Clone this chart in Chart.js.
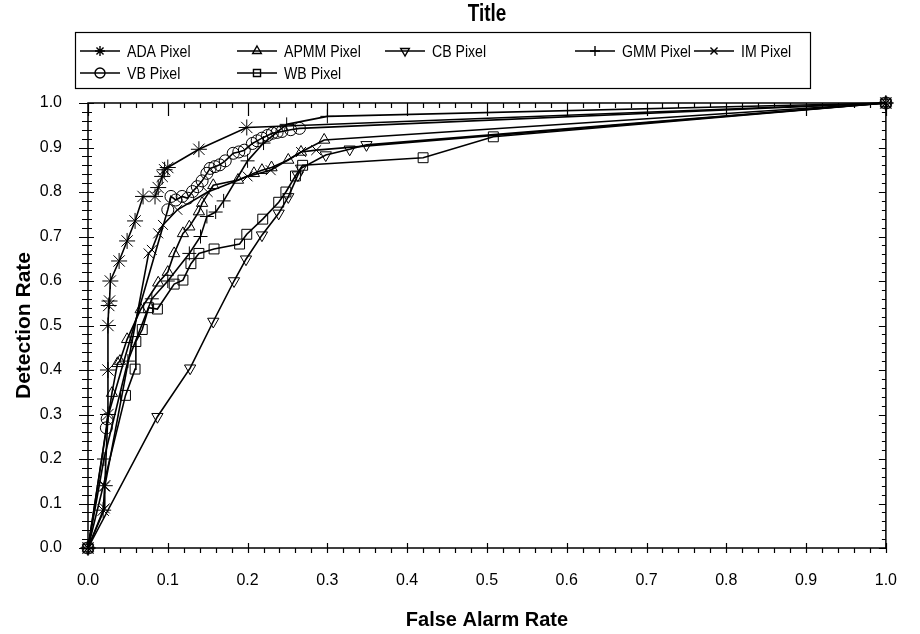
<!DOCTYPE html>
<html>
<head>
<meta charset="utf-8">
<title>ROC - Title</title>
<script src="https://cdn.jsdelivr.net/npm/chart.js@4.4.1/dist/chart.umd.min.js"></script>
<style>
  body { margin: 0; background: #fff; }
  #wrap { width: 920px; height: 634px; }
</style>
</head>
<body>
<div id="wrap"><canvas id="rocChart" width="920" height="634"></canvas></div>
<script>
// values (false alarm rate -> detection rate)
var adaX = [0, 0.019, 0.021, 0.025, 0.025, 0.025, 0.026, 0.027, 0.028, 0.039, 0.049, 0.059, 0.069, 0.084, 0.088, 0.093, 0.096, 0.1, 0.139, 0.199, 1];
var adaY = [0, 0.085, 0.14, 0.3, 0.4, 0.5, 0.545, 0.555, 0.6, 0.645, 0.69, 0.735, 0.79, 0.79, 0.81, 0.835, 0.85, 0.855, 0.896, 0.945, 1];

var apmmX = [0, 0.03, 0.037, 0.04, 0.049, 0.066, 0.088, 0.1, 0.108, 0.119, 0.127, 0.139, 0.143, 0.157, 0.188, 0.208, 0.218, 0.23, 0.251, 0.267, 0.296, 1];
var apmmY = [0, 0.348, 0.415, 0.42, 0.469, 0.536, 0.596, 0.62, 0.662, 0.707, 0.722, 0.756, 0.775, 0.815, 0.827, 0.842, 0.849, 0.855, 0.872, 0.89, 0.917, 1];

var cbX = [0, 0.087, 0.128, 0.157, 0.183, 0.198, 0.218, 0.239, 0.251, 0.263, 0.267, 0.298, 0.328, 0.349, 1];
var cbY = [0, 0.295, 0.404, 0.509, 0.6, 0.649, 0.703, 0.752, 0.789, 0.838, 0.853, 0.883, 0.896, 0.906, 1];

var gmmX = [0, 0.02, 0.05, 0.08, 0.1, 0.127, 0.141, 0.149, 0.16, 0.17, 0.2, 0.22, 0.249, 0.3, 1];
var gmmY = [0, 0.2, 0.42, 0.56, 0.6, 0.662, 0.7, 0.745, 0.755, 0.78, 0.87, 0.91, 0.952, 0.97, 1];

var imX = [0, 0.021, 0.021, 0.076, 0.08, 0.088, 0.094, 0.112, 0.15, 0.2, 0.229, 0.267, 0.286, 1];
var imY = [0, 0.089, 0.138, 0.662, 0.67, 0.707, 0.726, 0.76, 0.8, 0.835, 0.849, 0.89, 0.894, 1];

var vbX = [0, 0.023, 0.024, 0.1, 0.104, 0.11, 0.118, 0.125, 0.131, 0.137, 0.143, 0.149, 0.153, 0.159, 0.165, 0.172, 0.182, 0.189, 0.196, 0.206, 0.212, 0.218, 0.225, 0.231, 0.237, 0.243, 0.254, 0.265, 1];
var vbY = [0, 0.27, 0.29, 0.76, 0.79, 0.782, 0.79, 0.786, 0.801, 0.812, 0.825, 0.842, 0.853, 0.857, 0.861, 0.87, 0.887, 0.89, 0.894, 0.909, 0.915, 0.921, 0.927, 0.932, 0.934, 0.936, 0.94, 0.943, 1];

var wbX = [0, 0.047, 0.059, 0.06, 0.068, 0.076, 0.087, 0.108, 0.119, 0.129, 0.139, 0.158, 0.19, 0.199, 0.219, 0.239, 0.248, 0.26, 0.269, 0.42, 0.508, 1];
var wbY = [0, 0.343, 0.402, 0.464, 0.491, 0.54, 0.537, 0.593, 0.602, 0.639, 0.662, 0.672, 0.683, 0.705, 0.739, 0.777, 0.8, 0.836, 0.86, 0.877, 0.924, 1];

var seriesNames = ['ADA Pixel', 'APMM Pixel', 'CB Pixel', 'GMM Pixel', 'IM Pixel', 'VB Pixel', 'WB Pixel'];

var fontFace = "'Liberation Sans', Arial, sans-serif";

function makePoints(xs, ys) {
    return xs.map(function(x, i) { return { x: x, y: ys[i] }; });
}

function makeSet(name, xs, ys, style, radius, rotation) {
    return {
        label: name,
        data: makePoints(xs, ys),
        showLine: true,
        tension: 0,
        fill: false,
        borderColor: '#000',
        borderWidth: 1.6,
        pointStyle: style,
        pointRotation: rotation || 0,
        pointRadius: radius,
        pointBorderColor: '#000',
        pointBackgroundColor: 'rgba(0,0,0,0)',
        pointBorderWidth: 1,
        clip: 10
    };
}

// squeezed text, the original uses a narrow face
function narrowText(ctx, text, x, y, squeeze) {
    ctx.save();
    ctx.translate(x, y);
    ctx.scale(squeeze, 1);
    ctx.fillText(text, 0, 0);
    ctx.restore();
}

// frame with minor / major tick marks
var frameTicks = {
    id: 'frameTicks',
    afterDraw: function(chart) {
        var ctx = chart.ctx, a = chart.chartArea;
        var xs = chart.scales.x, ys = chart.scales.y;
        ctx.save();
        ctx.strokeStyle = '#000';
        ctx.lineWidth = 1.5;
        ctx.strokeRect(a.left, a.top, a.right - a.left, a.bottom - a.top);
        ctx.lineWidth = 1.2;
        ctx.beginPath();
        for (var i = 0; i <= 50; i++) {
            var major = i % 5 === 0;
            var px = Math.round(xs.getPixelForValue(i / 50)) + 0.5;
            var py = Math.round(ys.getPixelForValue(i / 50)) + 0.5;
            ctx.moveTo(px, a.bottom - (major ? 5 : 0));
            ctx.lineTo(px, a.bottom + 5);
            ctx.moveTo(px, a.top);
            ctx.lineTo(px, a.top + (major ? 13 : 5));
            ctx.moveTo(a.left - (major ? 9 : 6), py);
            ctx.lineTo(a.left + (major ? 6 : 4), py);
            ctx.moveTo(a.right, py);
            ctx.lineTo(a.right - (major ? 7 : 4), py);
        }
        ctx.stroke();
        ctx.restore();
    }
};

// title and boxed legend above the plot
var legendSlots = [[80, 51], [237, 51], [385, 51], [575, 51], [694, 51], [80, 73], [237, 73]];

var boxedLegend = {
    id: 'boxedLegend',
    afterDraw: function(chart) {
        var ctx = chart.ctx, a = chart.chartArea;
        ctx.save();
        ctx.fillStyle = '#000';
        ctx.textAlign = 'center';
        ctx.textBaseline = 'middle';
        ctx.font = 'bold 23px ' + fontFace;
        narrowText(ctx, 'Title', (a.left + a.right) / 2, 15, 0.82);

        ctx.strokeStyle = '#000';
        ctx.lineWidth = 1.2;
        ctx.strokeRect(75.5, 32.5, 735, 56);

        ctx.textAlign = 'left';
        ctx.font = '17px ' + fontFace;
        chart.data.datasets.forEach(function(ds, i) {
            var s = legendSlots[i];
            ctx.beginPath();
            ctx.lineWidth = 1.4;
            ctx.moveTo(s[0], s[1]);
            ctx.lineTo(s[0] + 40, s[1]);
            ctx.stroke();
            ctx.fillStyle = 'rgba(0,0,0,0)';
            Chart.helpers.drawPoint(ctx, {
                pointStyle: ds.pointStyle,
                rotation: ds.pointRotation,
                radius: 5,
                borderWidth: 1
            }, s[0] + 20, s[1]);
            ctx.fillStyle = '#000';
            narrowText(ctx, ds.label, s[0] + 47, s[1] + 1, 0.83);
        });
        ctx.restore();
    }
};

var ctx = document.getElementById('rocChart').getContext('2d');
var rocChart = new Chart(ctx, {
    type: 'scatter',
    data: {
        datasets: [
            makeSet(seriesNames[0], adaX, adaY, 'star', 8),
            makeSet(seriesNames[1], apmmX, apmmY, 'triangle', 6.5),
            makeSet(seriesNames[2], cbX, cbY, 'triangle', 6.5, 180),
            makeSet(seriesNames[3], gmmX, gmmY, 'cross', 7),
            makeSet(seriesNames[4], imX, imY, 'crossRot', 7),
            makeSet(seriesNames[5], vbX, vbY, 'circle', 6),
            makeSet(seriesNames[6], wbX, wbY, 'rect', 7)
        ]
    },
    options: {
        responsive: false,
        devicePixelRatio: 1,
        animation: false,
        layout: { padding: { top: 103, right: 14, left: 0, bottom: 0 } },
        plugins: {
            legend: { display: false },
            title: { display: false },
            tooltip: { enabled: false }
        },
        scales: {
            x: {
                type: 'linear',
                min: 0,
                max: 1,
                grid: { display: false, drawTicks: false },
                border: { display: false },
                ticks: {
                    stepSize: 0.1,
                    padding: 23,
                    color: '#000',
                    font: { family: fontFace, size: 16 },
                    callback: function(v) { return v.toFixed(1); }
                },
                title: {
                    display: true,
                    text: 'False Alarm Rate',
                    color: '#000',
                    font: { family: fontFace, size: 20, weight: 'bold' },
                    padding: { top: 0, bottom: 2 }
                },
                afterFit: function(s) { s.height = 86; }
            },
            y: {
                type: 'linear',
                min: 0,
                max: 1,
                grid: { display: false, drawTicks: false },
                border: { display: false },
                ticks: {
                    stepSize: 0.1,
                    padding: 26,
                    color: '#000',
                    font: { family: fontFace, size: 16 },
                    callback: function(v) { return v.toFixed(1); }
                },
                title: {
                    display: true,
                    text: 'Detection Rate',
                    color: '#000',
                    font: { family: fontFace, size: 21, weight: 'bold' },
                    padding: { top: 12, bottom: 0 }
                },
                afterFit: function(s) { s.width = 88; }
            }
        }
    },
    plugins: [frameTicks, boxedLegend]
});
</script>
</body>
</html>
